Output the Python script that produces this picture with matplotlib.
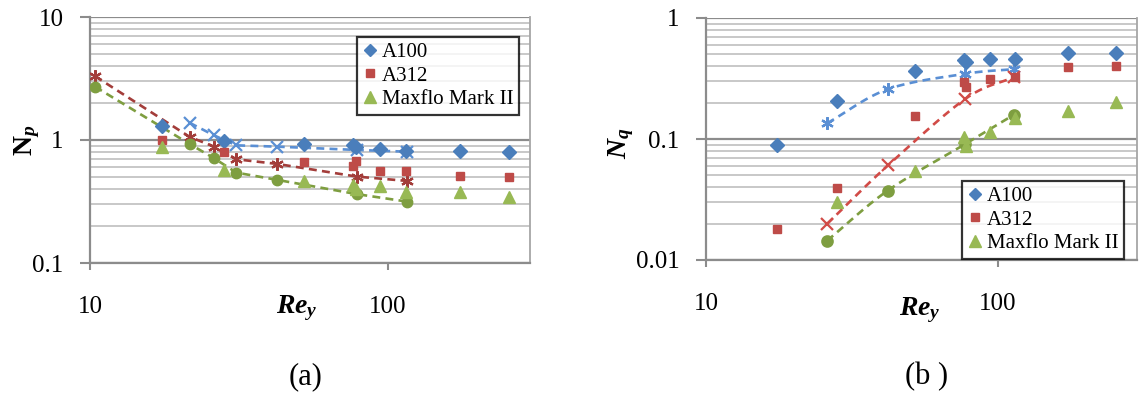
import numpy as np
import matplotlib
matplotlib.use("Agg")
import matplotlib.pyplot as plt
from matplotlib.lines import Line2D
from matplotlib.ticker import FixedLocator, FixedFormatter, NullLocator

plt.rcParams['font.family'] = ['Liberation Serif', 'DejaVu Serif']
plt.rcParams['mathtext.fontset'] = 'custom'
plt.rcParams['mathtext.rm'] = 'Liberation Serif:bold'
plt.rcParams['mathtext.it'] = 'Liberation Serif:italic:bold'
plt.rcParams['mathtext.bf'] = 'Liberation Serif:bold'

# ---------------- data ----------------
# experimental Reynolds numbers (shared by both panels)
re_exp = [17.5, 28.2, 52.2, 76.5, 78.0, 94.3, 115.0, 174.0, 255.0]

# (a) power number
np_a100 = [1.30, 0.99, 0.93, 0.91, 0.87, 0.84, 0.81, 0.82, 0.80]
np_a312 = [1.00, 0.80, 0.66, 0.62, 0.67, 0.56, 0.56, 0.51, 0.50]
np_maxflo = [0.88, 0.57, 0.465, 0.43, 0.40, 0.42, 0.38, 0.375, 0.347]

re_sim_a100_np = [21.6, 26.1, 31.0, 42.5, 78.7, 115.7]
np_sim_a100 = [1.38, 1.09, 0.905, 0.883, 0.83, 0.804]
re_sim_np = [10.4, 21.6, 26.1, 31.0, 42.5, 78.7, 115.7]
np_sim_a312 = [3.30, 1.06, 0.883, 0.697, 0.639, 0.504, 0.465]
np_sim_maxflo = [2.71, 0.928, 0.71, 0.543, 0.474, 0.363, 0.316]

# (b) flow number
re_exp_q_a312 = [17.5, 28.2, 52.2, 76.5, 78.0, 94.3, 115.0, 174.0, 255.0]
nq_a100 = [0.090, 0.208, 0.367, 0.452, 0.435, 0.455, 0.461, 0.510, 0.517]
nq_a312 = [0.0182, 0.0394, 0.1545, 0.295, 0.268, 0.313, 0.325, 0.393, 0.403]
re_exp_q_maxflo = [28.2, 52.2, 76.5, 78.0, 94.3, 115.0, 174.0, 255.0]
nq_maxflo = [0.0304, 0.0545, 0.1047, 0.087, 0.114, 0.1487, 0.172, 0.204]

re_sim_nq = [26.0, 42.0, 77.5, 113.5]
nq_sim_a100 = [0.135, 0.258, 0.346, 0.378]
nq_sim_a312 = [0.0199, 0.0604, 0.215, 0.325]
nq_sim_maxflo = [0.01445, 0.0375, 0.0912, 0.1585]

labels = ['A100', 'A312', 'Maxflo Mark II']

# ---------------- styles ----------------
c_blue, c_red, c_green = '#4A7EBB', '#BE4B48', '#98B954'
c_blue_l, c_red_l, c_green_l = '#5A8FD4', '#A33D3A', '#7E9E40'
c_red_l2 = '#D14B47'
grid_minor = '#C4C4C4'
grid_major = '#8C8C8C'
asterisk = (6, 2, 0)


def smooth(x, y, n=40):
    """Catmull-Rom curve through the points, computed in log-log space."""
    lx, ly = np.log10(x), np.log10(y)
    px = np.concatenate([[2 * lx[0] - lx[1]], lx, [2 * lx[-1] - lx[-2]]])
    py = np.concatenate([[2 * ly[0] - ly[1]], ly, [2 * ly[-1] - ly[-2]]])
    ox, oy = [], []
    t = np.linspace(0, 1, n)
    for i in range(1, len(px) - 2):
        for P, out in ((px, ox), (py, oy)):
            p0, p1, p2, p3 = P[i - 1], P[i], P[i + 1], P[i + 2]
            out.extend(0.5 * ((2 * p1) + (-p0 + p2) * t
                              + (2 * p0 - 5 * p1 + 4 * p2 - p3) * t ** 2
                              + (-p0 + 3 * p1 - 3 * p2 + p3) * t ** 3))
    return 10 ** np.array(ox), 10 ** np.array(oy)


def style_axes(ax, ylo, yhi, yticks, ylabels):
    ax.set_xscale('log')
    ax.set_yscale('log')
    ax.set_xlim(10, 300)
    ax.set_ylim(ylo, yhi)
    # horizontal grid: light lines at 2..9, darker at decades
    decades = np.arange(np.log10(ylo), np.log10(yhi) + 1e-9)
    for d in decades[:-1]:
        for k in range(2, 10):
            ax.axhline(k * 10 ** d, color=grid_minor, lw=1.3, zorder=0)
    for d in decades:
        ax.axhline(10 ** d, color=grid_major, lw=1.6, zorder=0)
    ax.xaxis.set_major_locator(FixedLocator([10, 100]))
    ax.xaxis.set_major_formatter(FixedFormatter(['10', '100']))
    ax.xaxis.set_minor_locator(NullLocator())
    ax.yaxis.set_major_locator(FixedLocator(yticks))
    ax.yaxis.set_major_formatter(FixedFormatter(ylabels))
    ax.yaxis.set_minor_locator(NullLocator())
    ax.tick_params(axis='x', direction='out', length=5, width=1.5,
                   color=grid_major, pad=19, labelsize=18)
    ax.tick_params(axis='y', direction='out', length=7, width=1.5,
                   color=grid_major, pad=12, labelsize=18)
    for s in ('left', 'bottom'):
        ax.spines[s].set_color(grid_major)
        ax.spines[s].set_linewidth(1.6)
    ax.spines['top'].set_visible(False)
    ax.spines['right'].set_color('#A6A6A6')
    ax.spines['right'].set_linewidth(1.3)


def legend(fig, x, y):
    handles = [
        Line2D([], [], ls='none', marker='D', ms=6, color=c_blue),
        Line2D([], [], ls='none', marker='s', ms=5.5, color=c_red),
        Line2D([], [], ls='none', marker='^', ms=8, color=c_green),
    ]
    leg = fig.legend(handles, labels, loc='upper left',
                     bbox_to_anchor=(x, y), bbox_transform=fig.transFigure,
                     prop={'family': 'Liberation Serif', 'size': 15},
                     frameon=True, fancybox=False, handlelength=0.7,
                     handletextpad=0.25, labelspacing=0.2, borderpad=0.25,
                     borderaxespad=0)
    leg.get_frame().set_edgecolor('black')
    leg.get_frame().set_linewidth(1.6)
    return leg


W, H = 1142, 394
fig = plt.figure(figsize=(W / 100, H / 100), dpi=100)

ax1 = fig.add_axes([90 / W, 1 - 263 / H, 440 / W, 246 / H])
ax2 = fig.add_axes([706 / W, 1 - 260 / H, 431 / W, 242 / H])

dash = dict(ls=(0, (3, 2)), lw=1.9)

# ---------------- (a) ----------------
style_axes(ax1, 0.1, 10, [0.1, 1, 10], ['0.1', '1', '10'])
ax1.plot(re_sim_a100_np, np_sim_a100, color=c_blue_l, marker='x', ms=8,
         mew=1.6, zorder=3, **dash)
ax1.plot(re_sim_np, np_sim_a312, color=c_red_l, marker=asterisk, ms=9,
         mew=1.6, zorder=3, **dash)
ax1.plot(re_sim_np, np_sim_maxflo, color=c_green_l, marker='o', ms=7.5,
         mfc=c_green_l, mec=c_green_l, zorder=3, **dash)
ax1.plot(re_exp, np_a100, ls='none', marker='D', ms=7, color=c_blue, zorder=4)
ax1.plot(re_exp, np_a312, ls='none', marker='s', ms=6, color=c_red, zorder=4)
ax1.plot(re_exp, np_maxflo, ls='none', marker='^', ms=8.5, color=c_green, zorder=4)

# ---------------- (b) ----------------
style_axes(ax2, 0.01, 1, [0.01, 0.1, 1], ['0.01', '0.1', '1'])
for yv, col, mk, ms in ((nq_sim_a100, c_blue_l, asterisk, 9),
                        (nq_sim_a312, c_red_l2, 'x', 8),
                        (nq_sim_maxflo, c_green_l, 'o', 7.5)):
    sx, sy = smooth(re_sim_nq, yv)
    ax2.plot(sx, sy, color=col, zorder=3, **dash)
    ax2.plot(re_sim_nq, yv, ls='none', marker=mk, ms=ms, mew=1.6,
             color=col, mfc=col, zorder=3)
ax2.plot(re_exp, nq_a100, ls='none', marker='D', ms=7, color=c_blue, zorder=4)
ax2.plot(re_exp_q_a312, nq_a312, ls='none', marker='s', ms=6, color=c_red, zorder=4)
ax2.plot(re_exp_q_maxflo, nq_maxflo, ls='none', marker='^', ms=8.5,
         color=c_green, zorder=4)

# ---------------- labels ----------------
def fig_text(x, y, s, **kw):
    fig.text(x / W, 1 - y / H, s, ha='center', va='center', **kw)

fig_text(27, 140, r'$\mathrm{N}_{p}$', fontsize=20, rotation=90)
fig_text(621, 143, r'$N_{q}$', fontsize=20, rotation=90)
fig_text(297, 308, r'$Re_{y}$', fontsize=20)
fig_text(920, 310, r'$Re_{y}$', fontsize=20)
fig_text(306, 377, '(a)', fontsize=22)
fig_text(927, 377, '(b )', fontsize=22)

legend(fig, 357 / W, 1 - 37 / H)
legend(fig, 962 / W, 1 - 181 / H)

fig.savefig('out.png', dpi=100, facecolor='white')
